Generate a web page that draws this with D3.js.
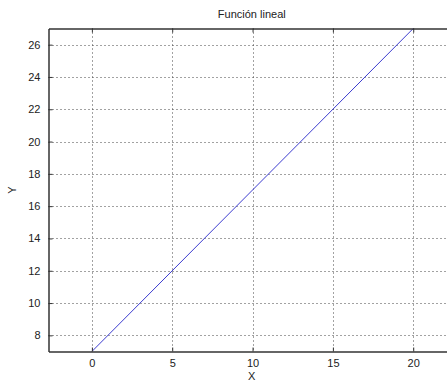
<!DOCTYPE html>
<html>
<head>
<meta charset="utf-8">
<script src="https://cdn.jsdelivr.net/npm/d3@7"></script>
<style>
  body { margin: 0; background: #fff; }
  svg { display: block; }
  text { font-family: "Liberation Sans", Arial, sans-serif; fill: #222; }
</style>
</head>
<body>
<svg width="447" height="383"></svg>
<script>
// chart data
const title = "Función lineal";
const xLabel = "X";
const yLabel = "Y";
const xValues = [0, 20];
const yValues = [7, 27];
const xTicks = [0, 5, 10, 15, 20];
const yTicks = [8, 10, 12, 14, 16, 18, 20, 22, 24, 26];
const xDomain = [-2.7, 22.6];
const yDomain = [7, 27];

// define chart dimensions
const svg = d3.select("svg");
const plotLeft = 48.5, plotRight = 455, plotTop = 28.5, plotBottom = 351.5;

const x = d3.scaleLinear().domain(xDomain).range([plotLeft, plotRight]);
const y = d3.scaleLinear().domain(yDomain).range([plotBottom, plotTop]);

// grid
const grid = svg.append("g")
  .attr("stroke", "#444")
  .attr("stroke-width", 1)
  .attr("stroke-dasharray", "1,3");
grid.selectAll(".vgrid")
  .data(xTicks)
  .enter()
  .append("line")
  .attr("x1", d => Math.round(x(d)) + 0.5)
  .attr("x2", d => Math.round(x(d)) + 0.5)
  .attr("y1", plotTop)
  .attr("y2", plotBottom);
grid.selectAll(".hgrid")
  .data(yTicks)
  .enter()
  .append("line")
  .attr("x1", plotLeft)
  .attr("x2", plotRight)
  .attr("y1", d => Math.round(y(d)) + 0.5)
  .attr("y2", d => Math.round(y(d)) + 0.5);

// data line
const line = d3.line()
  .x((d, i) => x(xValues[i]))
  .y(d => y(d));
svg.append("path")
  .datum(yValues)
  .attr("d", line)
  .attr("fill", "none")
  .attr("stroke", "#3c3cd0")
  .attr("stroke-width", 1);

// axes (ticks inside, like matlab)
const xAxis = svg.append("g")
  .attr("transform", "translate(0," + plotBottom + ")")
  .call(d3.axisBottom(x).tickValues(xTicks).tickSizeInner(-4).tickSizeOuter(0).tickPadding(8));
const xTop = svg.append("g")
  .attr("transform", "translate(0," + plotTop + ")")
  .call(d3.axisTop(x).tickValues(xTicks).tickSizeInner(-4).tickSizeOuter(0).tickFormat(""));
const yAxis = svg.append("g")
  .attr("transform", "translate(" + plotLeft + ",0)")
  .call(d3.axisLeft(y).tickValues(yTicks).tickSizeInner(-4).tickSizeOuter(0).tickPadding(8));

[xAxis, xTop, yAxis].forEach(a => {
  a.select(".domain").attr("stroke", "#333").attr("stroke-width", 1.5);
  a.selectAll(".tick line").attr("stroke", "#333");
  a.selectAll("text")
    .style("font-family", "'Liberation Sans', Arial, sans-serif")
    .style("font-size", "11px")
    .attr("fill", "#333");
});

// labels
svg.append("text")
  .attr("x", (plotLeft + plotRight) / 2)
  .attr("y", 18)
  .attr("text-anchor", "middle")
  .style("font-size", "11px")
  .text(title);
svg.append("text")
  .attr("x", (plotLeft + plotRight) / 2)
  .attr("y", 380)
  .attr("text-anchor", "middle")
  .style("font-size", "11px")
  .text(xLabel);
svg.append("text")
  .attr("transform", "translate(16," + (plotTop + plotBottom) / 2 + ") rotate(-90)")
  .attr("text-anchor", "middle")
  .style("font-size", "11px")
  .text(yLabel);
</script>
</body>
</html>
